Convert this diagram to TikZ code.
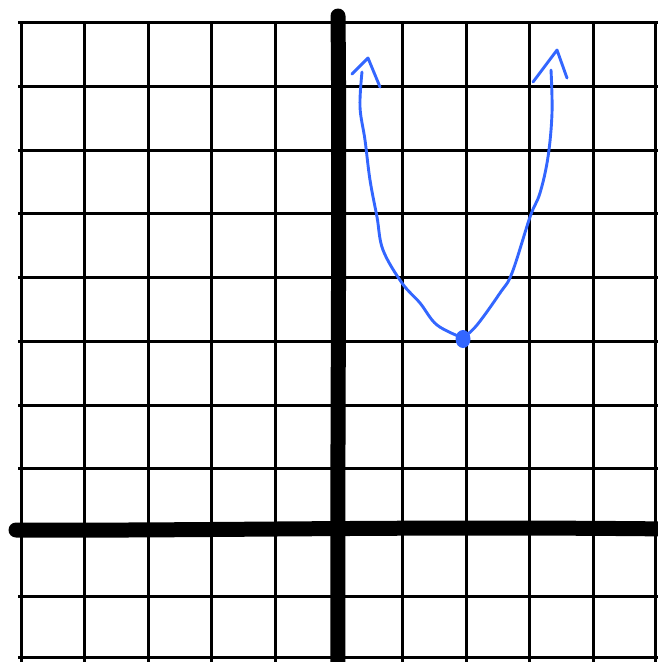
\documentclass[tikz,border=0pt]{standalone}
\begin{document}
\begin{tikzpicture}[x=1pt,y=-1pt,
  gridline/.style={line width=3pt,black},
  axisline/.style={line width=15pt,black,line cap=round},
  curveline/.style={line width=2.9pt,draw=curveblue,line cap=round,line join=round}]
\definecolor{curveblue}{HTML}{3366FF}
\useasboundingbox (0,0) rectangle (658,662);
% grid
\foreach \x in {21,84.5,148,211.5,275,402,466,529.5,593,655}
  \draw[gridline] (\x,22) -- (\x,662);
\foreach \y in {22,86.5,150.5,213.5,277,341,405,468.5,596,657}
  \draw[gridline] (18,\y) -- (658,\y);
% axes
\draw[axisline] (338,16) .. controls (340,200) and (337,450) .. (338,670);
\draw[axisline] (16,530) .. controls (200,531) and (400,526) .. (670,529);
% parabola
\coordinate (vtx) at (463,339);
\draw[curveline] plot[smooth,tension=0.6] coordinates {
  (362,72) (360,107) (365,140) (370,180) (377,217) (383,250)
  (402,283) (420,303) (437,325) (463,338)};
\draw[curveline] plot[smooth,tension=0.6] coordinates {
  (463,338) (477,325) (500,293) (512,273) (530,217) (540,193)
  (548,157) (552,113) (551,70)};
\draw[curveline] (352,74) -- (368,58) -- (380,87);
\draw[curveline] (533,82) -- (557,50) -- (567,78);
\fill[curveblue] (vtx) ellipse (7.5pt and 9pt);
\end{tikzpicture}
\end{document}
